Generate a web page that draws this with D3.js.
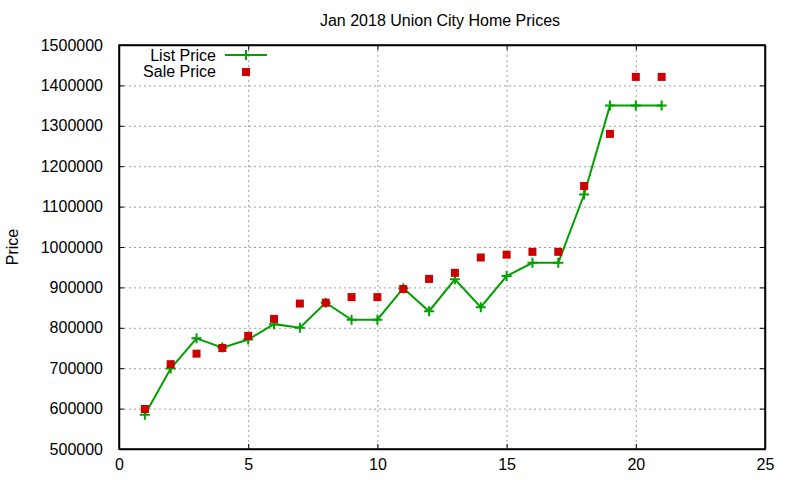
<!DOCTYPE html>
<html>
<head>
<meta charset="utf-8">
<script src="https://cdn.jsdelivr.net/npm/d3@7"></script>
<style>
  body { margin: 0; background: #fff; }
  text { font-family: "Liberation Sans", Arial, sans-serif; font-size: 16px; fill: #000; }
</style>
</head>
<body>
<svg id="chart" width="800" height="480"></svg>
<script>
// data
const listing = [1, 2, 3, 4, 5, 6, 7, 8, 9, 10, 11, 12, 13, 14, 15, 16, 17, 18, 19, 20, 21];
const listPrice = [585000, 699000, 774000, 751000, 771000, 809000, 800000, 862000, 820000, 820000,
    898000, 841000, 920000, 851000, 928000, 961000, 961000, 1130000, 1350000, 1350000, 1350000];
const salePrice = [599000, 710000, 736000, 750000, 780000, 822000, 860000, 862000, 876000, 876000,
    896000, 921000, 936000, 974000, 981000, 988000, 988000, 1151000, 1280000, 1421000, 1421000];
const xTicks = [0, 5, 10, 15, 20, 25];
const yTicks = [500000, 600000, 700000, 800000, 900000, 1000000, 1100000, 1200000, 1300000, 1400000, 1500000];

const green = '#00a000';
const red = '#cc0000';

const svg = d3.select('#chart');
const plotL = 119, plotR = 765, plotT = 45, plotB = 449;

const x = d3.scaleLinear().domain([0, 25]).range([plotL, plotR]);
const y = d3.scaleLinear().domain([500000, 1500000]).range([plotB, plotT]);

// grid
const grid = svg.append('g')
    .attr('stroke', '#a0a0a0')
    .attr('stroke-width', 1)
    .attr('stroke-dasharray', '2,3');

grid.selectAll('.gx')
    .data(xTicks.slice(1, -1))
    .enter()
    .append('line')
    .attr('x1', d => x(d) + 0.5).attr('x2', d => x(d) + 0.5)
    .attr('y1', plotT).attr('y2', plotB);

grid.selectAll('.gy')
    .data(yTicks.slice(1, -1))
    .enter()
    .append('line')
    .attr('x1', plotL).attr('x2', plotR)
    .attr('y1', d => y(d) + 0.5).attr('y2', d => y(d) + 0.5);

// axes, ticks point inward on all four sides
svg.append('g')
    .attr('transform', 'translate(0,' + plotB + ')')
    .call(d3.axisBottom(x).tickValues(xTicks).tickSizeInner(-5).tickSizeOuter(0).tickPadding(10));
svg.append('g')
    .attr('transform', 'translate(0,' + plotT + ')')
    .call(d3.axisTop(x).tickValues(xTicks).tickSizeInner(-5).tickSizeOuter(0).tickFormat(''));
svg.append('g')
    .attr('transform', 'translate(' + plotL + ',0)')
    .call(d3.axisLeft(y).tickValues(yTicks).tickSizeInner(-5).tickSizeOuter(0).tickPadding(16).tickFormat(d3.format('d')));
svg.append('g')
    .attr('transform', 'translate(' + plotR + ',0)')
    .call(d3.axisRight(y).tickValues(yTicks).tickSizeInner(-5).tickSizeOuter(0).tickFormat(''));

svg.selectAll('.domain').attr('stroke', '#000').attr('stroke-width', 1.5);
svg.selectAll('.tick line').attr('stroke', '#000');
svg.selectAll('.tick text')
    .style('font-family', '"Liberation Sans", Arial, sans-serif')
    .style('font-size', '16px')
    .attr('fill', '#000');

// frame
svg.append('rect')
    .attr('x', plotL).attr('y', plotT)
    .attr('width', plotR - plotL).attr('height', plotB - plotT)
    .attr('fill', 'none').attr('stroke', '#000').attr('stroke-width', 1.5);

// title and axis label
svg.append('text')
    .attr('x', 440).attr('y', 26)
    .attr('text-anchor', 'middle')
    .text('Jan 2018 Union City Home Prices');

svg.append('text')
    .attr('transform', 'translate(18,' + 247 + ') rotate(-90)')
    .attr('text-anchor', 'middle')
    .text('Price');

// list price line + plus markers
const pts = zip(listing, listPrice);
svg.append('path')
    .datum(pts)
    .attr('fill', 'none')
    .attr('stroke', green)
    .attr('stroke-width', 2)
    .attr('d', d3.line().x(d => x(d[0])).y(d => y(d[1])));

function plus(g, cx, cy) {
    g.append('path')
        .attr('d', 'M' + (cx - 5) + ',' + cy + 'H' + (cx + 5) + 'M' + cx + ',' + (cy - 5) + 'V' + (cy + 5))
        .attr('stroke', green)
        .attr('stroke-width', 2)
        .attr('fill', 'none');
}

const marks = svg.append('g');
pts.forEach(d => plus(marks, x(d[0]), y(d[1])));

// sale price squares
svg.append('g')
    .selectAll('rect')
    .data(zip(listing, salePrice))
    .enter()
    .append('rect')
    .attr('x', d => x(d[0]) - 4)
    .attr('y', d => y(d[1]) - 4)
    .attr('width', 8)
    .attr('height', 8)
    .attr('fill', red);

// legend
const legend = svg.append('g');
legend.append('text')
    .attr('x', 216).attr('y', 61)
    .attr('text-anchor', 'end')
    .text('List Price');
legend.append('line')
    .attr('x1', 225).attr('x2', 267)
    .attr('y1', 55).attr('y2', 55)
    .attr('stroke', green).attr('stroke-width', 2);
plus(legend, 246, 55);
legend.append('text')
    .attr('x', 216).attr('y', 77)
    .attr('text-anchor', 'end')
    .text('Sale Price');
legend.append('rect')
    .attr('x', 242).attr('y', 68)
    .attr('width', 8).attr('height', 8)
    .attr('fill', red);

function zip(a, b) {
    return a.map((e, i) => [e, b[i]]);
}
</script>
</body>
</html>
